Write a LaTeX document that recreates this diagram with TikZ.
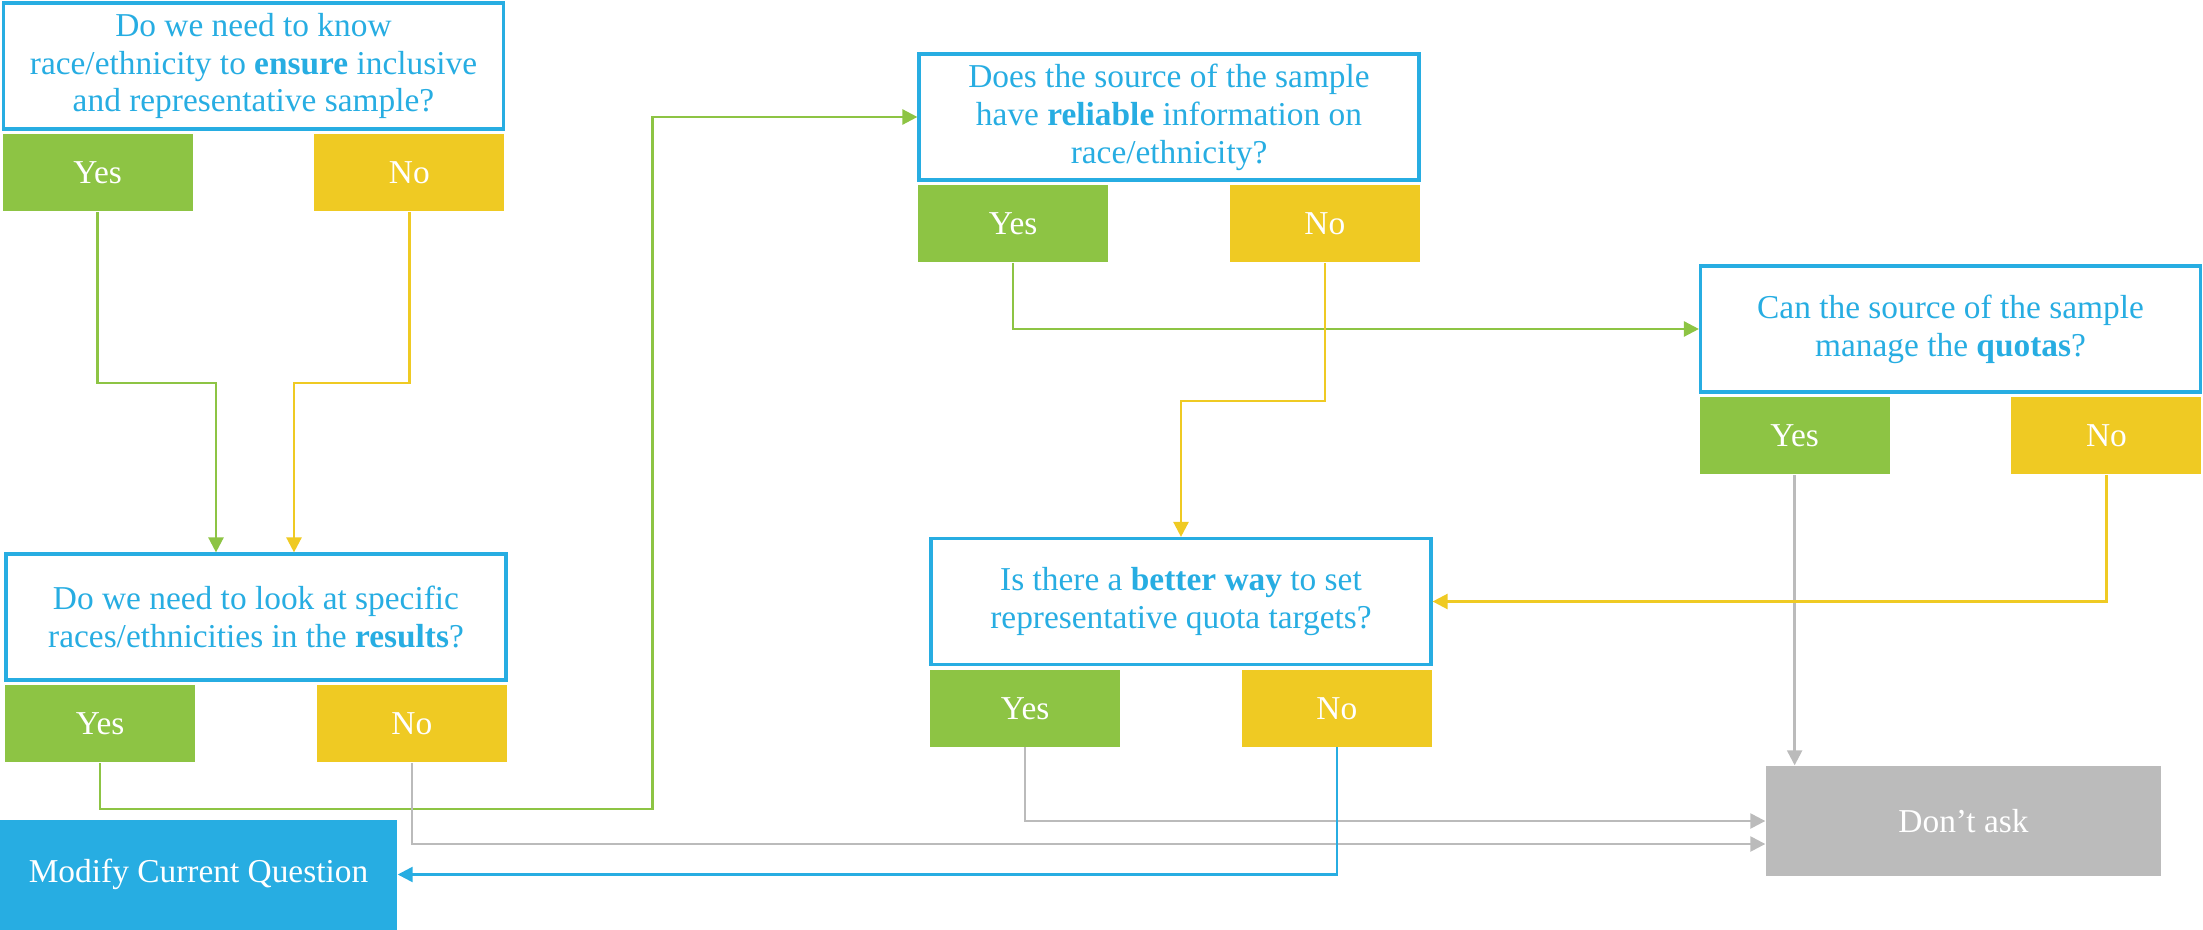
\documentclass[tikz,border=0pt]{standalone}
\usepackage{fontspec}
\setmainfont{Liberation Serif}
\usepackage{xcolor}
\usepackage{tikz}
\usetikzlibrary{arrows.meta,positioning,calc}
\definecolor{azul}{HTML}{27ADE2}
\definecolor{verde}{HTML}{8DC444}
\definecolor{amarelo}{HTML}{EFCA23}
\definecolor{cinza}{HTML}{BBBBBB}
\tikzset{
    bloco/.style={
        rectangle,
        align=center,
        inner sep=2pt,
        font=\fontsize{9.5}{10.8}\selectfont
    },
    pergunta/.style={
        bloco,
        draw=azul,
        line width=0.9pt,
        text=azul,
        minimum width=5.0cm,
        minimum height=1.26cm
    },
    resposta/.style={bloco, text=white, minimum width=1.9cm, minimum height=0.77cm},
    sim/.style={resposta, fill=verde},
    nao/.style={resposta, fill=amarelo},
    desfecho/.style={bloco, text=white, minimum width=3.95cm, minimum height=1.1cm},
    fluxo/.style={-{Triangle[length=1.5mm,width=1.5mm]}, line width=0.7pt},
    fluxoSim/.style={fluxo, draw=verde},
    fluxoNao/.style={fluxo, draw=amarelo},
    fluxoCinza/.style={fluxo, draw=cinza},
    fluxoAzul/.style={fluxo, draw=azul}
}

\begin{document}
\begin{tikzpicture}
        \useasboundingbox (0,0) rectangle (22.03,9.29);
        % perguntas
        \node[pergunta] (q1) at (2.535,8.63)
            {Do we need to know\\race/ethnicity to \textbf{ensure} inclusive\\and representative sample?};
        \node[pergunta] (q2) at (2.56,3.12)
            {Do we need to look at specific\\races/ethnicities in the \textbf{results}?};
        \node[pergunta] (q3) at (11.69,8.12)
            {Does the source of the sample\\have \textbf{reliable} information on\\race/ethnicity?};
        \node[pergunta] (q4) at (19.505,6.0)
            {Can the source of the sample\\manage the \textbf{quotas}?};
        \node[pergunta] (q5) at (11.81,3.275)
            {Is there a \textbf{better way} to set\\representative quota targets?};
        % respostas
        \node[sim, below right=0.03cm and 0cm of q1.south west] (s1) {Yes};
        \node[nao, below left=0.03cm and 0cm of q1.south east] (n1) {No};
        \node[sim, below right=0.03cm and 0cm of q2.south west] (s2) {Yes};
        \node[nao, below left=0.03cm and 0cm of q2.south east] (n2) {No};
        \node[sim, below right=0.03cm and 0cm of q3.south west] (s3) {Yes};
        \node[nao, below left=0.03cm and 0cm of q3.south east] (n3) {No};
        \node[sim, below right=0.03cm and 0cm of q4.south west] (s4) {Yes};
        \node[nao, below left=0.03cm and 0cm of q4.south east] (n4) {No};
        \node[sim, below right=0.03cm and 0cm of q5.south west] (s5) {Yes};
        \node[nao, below left=0.03cm and 0cm of q5.south east] (n5) {No};
        % desfechos
        \node[desfecho, fill=azul, minimum width=3.97cm] (mq) at (1.985,0.545)
            {Modify Current Question};
        \node[desfecho, fill=cinza] (fim) at (19.635,1.08)
            {Don’t ask};
        % ligacoes
        \draw[fluxoSim] (s1.south) -- ++(0,-1.71) -| ([xshift=-0.40cm]q2.north);
        \draw[fluxoNao] (n1.south) -- ++(0,-1.71) -| ([xshift=0.38cm]q2.north);
        \draw[fluxoSim] (s2.south) -- ++(0,-0.46) -| ($(q3.west)+(-2.65,0)$) -- (q3.west);
        \draw[fluxoCinza] (n2.south) |- ([yshift=-0.23cm]fim.west);
        \draw[fluxoSim] (s3.south) |- (q4.west);
        \draw[fluxoNao] (n3.south) -- ++(0,-1.38) -| (q5.north);
        \draw[fluxoCinza] (s4.south) -- (s4.south |- fim.north);
        \draw[fluxoNao] (n4.south) |- (q5.east);
        \draw[fluxoCinza] (s5.south) |- (fim.west);
        \draw[fluxoAzul] (n5.south) |- (mq.east);
    \end{tikzpicture}
\end{document}
